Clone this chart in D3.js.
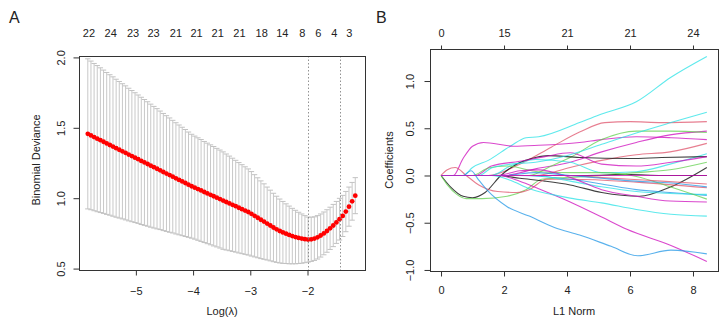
<!DOCTYPE html>
<html>
<head>
<meta charset="utf-8">
<script src="https://cdn.jsdelivr.net/npm/d3@7"></script>
<style>
  body { margin: 0; background: #fff; }
  svg text { font-family: "Liberation Sans", Arial, Helvetica, sans-serif; fill: #222; }
</style>
</head>
<body>
<svg id="chart" width="727" height="322"></svg>
<script>
// ---- panel A: cross-validated deviance ----
const logLambda = [
  -5.840, -5.785, -5.730, -5.675, -5.620, -5.565, -5.510, -5.455, -5.400, -5.345,
  -5.290, -5.235, -5.180, -5.125, -5.070, -5.015, -4.960, -4.905, -4.850, -4.795,
  -4.740, -4.685, -4.630, -4.575, -4.520, -4.465, -4.410, -4.355, -4.300, -4.245,
  -4.190, -4.135, -4.080, -4.025, -3.970, -3.915, -3.860, -3.805, -3.750, -3.695,
  -3.640, -3.585, -3.530, -3.475, -3.420, -3.365, -3.310, -3.255, -3.200, -3.145,
  -3.090, -3.035, -2.980, -2.925, -2.870, -2.815, -2.760, -2.705, -2.650, -2.595,
  -2.540, -2.485, -2.430, -2.375, -2.320, -2.265, -2.210, -2.155, -2.100, -2.045,
  -1.990, -1.935, -1.880, -1.825, -1.770, -1.715, -1.660, -1.605, -1.550, -1.495,
  -1.440, -1.385, -1.330, -1.275, -1.220, -1.165
];
const cvMean = [
  1.457, 1.446, 1.434, 1.423, 1.412, 1.401, 1.389, 1.378, 1.367, 1.355,
  1.344, 1.333, 1.322, 1.310, 1.299, 1.288, 1.277, 1.265, 1.254, 1.243,
  1.231, 1.220, 1.209, 1.198, 1.186, 1.175, 1.164, 1.153, 1.141, 1.130,
  1.119, 1.108, 1.096, 1.085, 1.075, 1.065, 1.055, 1.044, 1.034, 1.024,
  1.014, 1.004, 0.994, 0.983, 0.973, 0.963, 0.953, 0.943, 0.932, 0.922,
  0.912, 0.902, 0.889, 0.875, 0.861, 0.847, 0.834, 0.820, 0.806, 0.792,
  0.779, 0.767, 0.757, 0.748, 0.739, 0.731, 0.724, 0.718, 0.713, 0.709,
  0.706, 0.708, 0.713, 0.722, 0.735, 0.750, 0.767, 0.786, 0.806, 0.828,
  0.851, 0.874, 0.905, 0.940, 0.978, 1.018
];
const cvSd = [
  0.533, 0.528, 0.523, 0.519, 0.514, 0.509, 0.504, 0.499, 0.495, 0.490,
  0.485, 0.480, 0.476, 0.471, 0.466, 0.461, 0.456, 0.452, 0.447, 0.442,
  0.437, 0.432, 0.427, 0.421, 0.416, 0.411, 0.406, 0.400, 0.395, 0.390,
  0.385, 0.380, 0.374, 0.369, 0.366, 0.364, 0.362, 0.359, 0.357, 0.355,
  0.353, 0.350, 0.348, 0.346, 0.341, 0.336, 0.331, 0.326, 0.321, 0.316,
  0.311, 0.306, 0.300, 0.292, 0.284, 0.276, 0.268, 0.259, 0.251, 0.243,
  0.235, 0.227, 0.220, 0.212, 0.205, 0.197, 0.190, 0.182, 0.175, 0.167,
  0.160, 0.157, 0.155, 0.154, 0.153, 0.152, 0.151, 0.150, 0.150, 0.149,
  0.148, 0.146, 0.143, 0.139, 0.134, 0.128
];
const lambdaMinLog = -1.99;
const lambda1seLog = -1.44;
const logLambdaTicks = [-5, -4, -3, -2];
const devianceTicks = [0.5, 1.0, 1.5, 2.0];
const dfAtLog = [-5.82, -5.44, -5.05, -4.69, -4.30, -3.94, -3.57, -3.19, -2.80, -2.44, -2.09, -1.81, -1.53, -1.27];
const dfLabelsA = [22, 24, 23, 23, 21, 21, 21, 21, 18, 14, 8, 6, 4, 3];

// ---- panel B: coefficient paths, [L1 norm, coefficient] ----
const coefPaths = [
  [[0,0],[0.7,0],[1.0,0.085],[1.5,0.16],[2.2,0.31],[2.7,0.40],[3.1,0.41],[4.4,0.56],[5.1,0.65],[6.2,0.78],[7.3,1.04],[8.44,1.26]],
  [[0,0],[0.39,0],[0.7,0.18],[1.0,0.31],[1.35,0.35],[2.3,0.31],[3.1,0.32],[4.4,0.35],[5.1,0.38],[6.2,0.41],[7.3,0.40],[8.44,0.38]],
  [[0,0],[1.5,0],[2.5,0.12],[3.5,0.30],[4.4,0.46],[5.2,0.56],[6,0.57],[7,0.56],[8.44,0.57]],
  [[0,0],[2.0,0],[3.0,0.07],[4.1,0.14],[5.1,0.25],[6.2,0.35],[7.27,0.43],[8.44,0.47]],
  [[0,0],[2.8,0],[3.5,0.10],[4.1,0.19],[5.1,0.38],[6.2,0.47],[7.27,0.47],[8.44,0.455]],
  [[0,0],[3.0,0],[4.1,0.085],[5.1,0.16],[6.2,0.22],[7.27,0.25],[8.44,0.34]],
  [[0,0],[1.6,0],[2.2,0.10],[3.0,0.17],[4.1,0.14],[5.1,0.03],[6.2,0.04],[7.27,0.12],[8.44,0.23]],
  [[0,0],[0.3,-0.12],[0.7,-0.22],[1.0,-0.235],[1.4,-0.18],[1.9,0],[2.4,0.12],[3.0,0.19],[3.4,0.21],[4.4,0.19],[6,0.18],[7,0.19],[8.44,0.20]],
  [[0,0],[1.1,0],[1.6,0.10],[2.5,0.15],[3.3,0.20],[4.1,0.24],[5.1,0.12],[6.2,0.10],[7.3,0.14],[8.44,0.20]],
  [[0,0],[0.2,-0.10],[0.5,-0.20],[0.8,-0.245],[1.3,-0.245],[2.1,-0.22],[2.7,-0.15],[3.2,-0.04],[4.1,-0.02],[5.1,0.0],[6.2,0.03],[7.27,0.06],[8.44,0.14]],
  [[0,0],[1.8,0],[2.5,-0.03],[3.3,-0.06],[4.1,-0.10],[5.1,-0.18],[6.3,-0.22],[7.3,-0.12],[8.44,0.085]],
  [[0,0],[4.5,0],[6,0.01],[7,0.0],[8.44,0.0]],
  [[0,0],[0.2,0.06],[0.45,0.085],[0.8,0],[1.2,-0.10],[1.8,-0.17],[2.4,-0.18],[2.8,-0.15],[3.35,-0.04],[4.1,-0.04],[6.2,-0.07],[8.44,-0.13]],
  [[0,0],[2.5,0],[4.1,-0.04],[5.1,-0.09],[6.2,-0.15],[7.27,-0.18],[8.44,-0.21]],
  [[0,0],[3.0,0],[4.1,-0.06],[5.1,-0.12],[6.2,-0.17],[7.27,-0.19],[8.44,-0.20]],
  [[0,0],[1.0,0],[1.5,0.08],[2.1,0.10],[3.1,0.04],[4.1,0.03],[5.1,0.03],[6.2,-0.01],[7.27,-0.12],[8.44,-0.25]],
  [[0,0],[1.8,0],[2.5,0.05],[3.1,0.06],[4.1,-0.02],[5.1,-0.15],[6.2,-0.22],[7.27,-0.27],[8.44,-0.28]],
  [[0,0],[1.8,0],[2.5,-0.06],[3.1,-0.14],[4.1,-0.28],[5.1,-0.44],[5.9,-0.57],[7.3,-0.74],[8.44,-0.91]],
  [[0,0],[1.6,0],[2.2,-0.05],[2.8,-0.14],[3.5,-0.20],[4.1,-0.24],[5.1,-0.29],[6.2,-0.36],[7.3,-0.41],[8.44,-0.43]],
  [[0,0],[0.7,0],[0.95,0.05],[1.2,-0.05],[1.45,-0.15],[2.1,-0.33],[2.8,-0.43],[3.6,-0.55],[4.4,-0.63],[5.4,-0.75],[6.25,-0.85],[7.3,-0.79],[8.44,-0.83]],
  [[0,0],[1.2,0],[1.6,0.08],[2.2,0.12],[3.0,0.14],[4.1,0.22],[5.1,0.33],[6.2,0.45],[7.3,0.56],[8.44,0.67]],
  [[0,0],[4,0],[5,-0.02],[6,-0.04],[7,-0.06],[8.44,-0.09]],
  [[0,0],[2.0,0],[3.0,0.03],[4.1,0.0],[5.1,-0.03],[6.2,-0.06],[7.3,-0.08],[8.44,-0.12]],
  [[0,0],[8.44,0]]
];
const normTicks = [0, 2, 4, 6, 8];
const dfLabelsB = [0, 15, 21, 21, 24];
const coefTicks = [-1.0, -0.5, 0.0, 0.5, 1.0];

// R palette colours, one per path
const K = '#000000', P = '#DF536B', G = '#61D04F', B = '#2297E6', C = '#28E2E5', M = '#CD0BBC';
const pathColors = [C, M, P, M, G, P, C, K, M, G, K, K, P, B, C, G, M, M, C, B, C, P, B, M];

const svg = d3.select('#chart');
const fmt1 = d3.format('.1f');
const barColor = '#c2c2c2';

function styleAxis(g) {
  g.select('.domain').remove();
  g.selectAll('line').attr('stroke', '#333');
  g.selectAll('text').attr('font-size', 11).attr('fill', '#222');
}

function drawBox(x0, y0, x1, y1) {
  svg.append('rect')
    .attr('x', x0 + 0.5).attr('y', y0 + 0.5)
    .attr('width', x1 - x0).attr('height', y1 - y0)
    .attr('fill', 'none').attr('stroke', '#333').attr('stroke-width', 1);
}

// ================= panel A =================
const xA = d3.scaleLinear().domain([-5.994, -0.995]).range([79, 365]);
const yA = d3.scaleLinear().domain([0.49, 2.01]).range([270, 56]);
const cv = logLambda.map((l, i) => ({l, m: cvMean[i], up: cvMean[i] + cvSd[i], lo: cvMean[i] - cvSd[i]}));
const capHalf = (d3.max(logLambda) - d3.min(logLambda)) * 0.01;

const gA = svg.append('g');
// error bars
gA.selectAll('.eb').data(cv).enter().append('line')
  .attr('x1', d => xA(d.l)).attr('x2', d => xA(d.l))
  .attr('y1', d => yA(d.up)).attr('y2', d => yA(d.lo))
  .attr('stroke', barColor).attr('stroke-width', 0.9);
gA.selectAll('.capU').data(cv).enter().append('line')
  .attr('x1', d => xA(d.l - capHalf)).attr('x2', d => xA(d.l + capHalf))
  .attr('y1', d => yA(d.up)).attr('y2', d => yA(d.up))
  .attr('stroke', barColor).attr('stroke-width', 1);
gA.selectAll('.capL').data(cv).enter().append('line')
  .attr('x1', d => xA(d.l - capHalf)).attr('x2', d => xA(d.l + capHalf))
  .attr('y1', d => yA(d.lo)).attr('y2', d => yA(d.lo))
  .attr('stroke', barColor).attr('stroke-width', 1);
// red points
gA.selectAll('.pt').data(cv).enter().append('circle')
  .attr('cx', d => xA(d.l)).attr('cy', d => yA(d.m))
  .attr('r', 2.4).attr('fill', '#ff0000');
// lambda.min / lambda.1se
gA.selectAll('.vl').data([lambdaMinLog, lambda1seLog]).enter().append('line')
  .attr('x1', d => Math.round(xA(d)) + 0.5).attr('x2', d => Math.round(xA(d)) + 0.5)
  .attr('y1', 56).attr('y2', 270)
  .attr('stroke', '#777').attr('stroke-width', 0.8).attr('stroke-dasharray', '1.5,2');

drawBox(79, 56, 365, 270);

svg.append('g').attr('transform', 'translate(0,270.5)')
  .call(d3.axisBottom(xA).tickValues(logLambdaTicks).tickFormat(d3.format('d')).tickSize(5).tickSizeOuter(0))
  .call(styleAxis)
  .call(g => g.selectAll('text').attr('y', 24).attr('dy', 0));

svg.append('g').attr('transform', 'translate(79.5,0)')
  .call(d3.axisLeft(yA).tickValues(devianceTicks).tickFormat(fmt1).tickSize(6).tickSizeOuter(0))
  .call(styleAxis)
  .call(g => g.selectAll('text')
    .attr('x', 0).attr('dy', '0.35em').attr('text-anchor', 'middle')
    .attr('transform', 'translate(-18,0) rotate(-90)'));

svg.append('g').selectAll('text').data(dfAtLog).enter().append('text')
  .attr('x', d => xA(d)).attr('y', 37)
  .attr('text-anchor', 'middle').attr('font-size', 11)
  .text((d, i) => dfLabelsA[i]);

svg.append('text').attr('x', 222).attr('y', 315).attr('text-anchor', 'middle')
  .attr('font-size', 11).text('Log(λ)');
svg.append('text').attr('transform', 'translate(36,160) rotate(-90)')
  .attr('dy', '0.35em').attr('text-anchor', 'middle').attr('font-size', 11)
  .text('Binomial Deviance');
svg.append('text').attr('x', 9).attr('y', 23).attr('font-size', 16).text('A');

// ================= panel B =================
const xB = d3.scaleLinear().domain([-0.35, 8.794]).range([430, 718]);
const yB = d3.scaleLinear().domain([-1.011, 1.339]).range([271, 49]);

const line = d3.line().x(d => xB(d[0])).y(d => yB(d[1])).curve(d3.curveMonotoneX);
svg.append('g').selectAll('path').data(coefPaths).enter().append('path')
  .attr('d', line).attr('fill', 'none')
  .attr('stroke', (d, i) => pathColors[i]).attr('stroke-width', 1.1)
  .attr('stroke-opacity', 0.75);

drawBox(430, 49, 718, 271);

svg.append('g').attr('transform', 'translate(0,271.5)')
  .call(d3.axisBottom(xB).tickValues(normTicks).tickFormat(d3.format('d')).tickSize(5).tickSizeOuter(0))
  .call(styleAxis)
  .call(g => g.selectAll('text').attr('y', 22).attr('dy', 0));

svg.append('g').attr('transform', 'translate(0,49.5)')
  .call(d3.axisTop(xB).tickValues(normTicks).tickFormat((d, i) => dfLabelsB[i]).tickSize(4).tickSizeOuter(0))
  .call(styleAxis)
  .call(g => g.selectAll('text').attr('y', -13).attr('dy', 0));

svg.append('g').attr('transform', 'translate(430.5,0)')
  .call(d3.axisLeft(yB).tickValues(coefTicks).tickFormat(fmt1).tickSize(6).tickSizeOuter(0))
  .call(styleAxis)
  .call(g => g.selectAll('text')
    .attr('x', 0).attr('dy', '0.35em').attr('text-anchor', 'middle')
    .attr('transform', 'translate(-20,0) rotate(-90)'));

svg.append('text').attr('x', 574).attr('y', 315).attr('text-anchor', 'middle')
  .attr('font-size', 11).text('L1 Norm');
svg.append('text').attr('transform', 'translate(389,160) rotate(-90)')
  .attr('dy', '0.35em').attr('text-anchor', 'middle').attr('font-size', 11)
  .text('Coefficients');
svg.append('text').attr('x', 376).attr('y', 23).attr('font-size', 16).text('B');
</script>
</body>
</html>
